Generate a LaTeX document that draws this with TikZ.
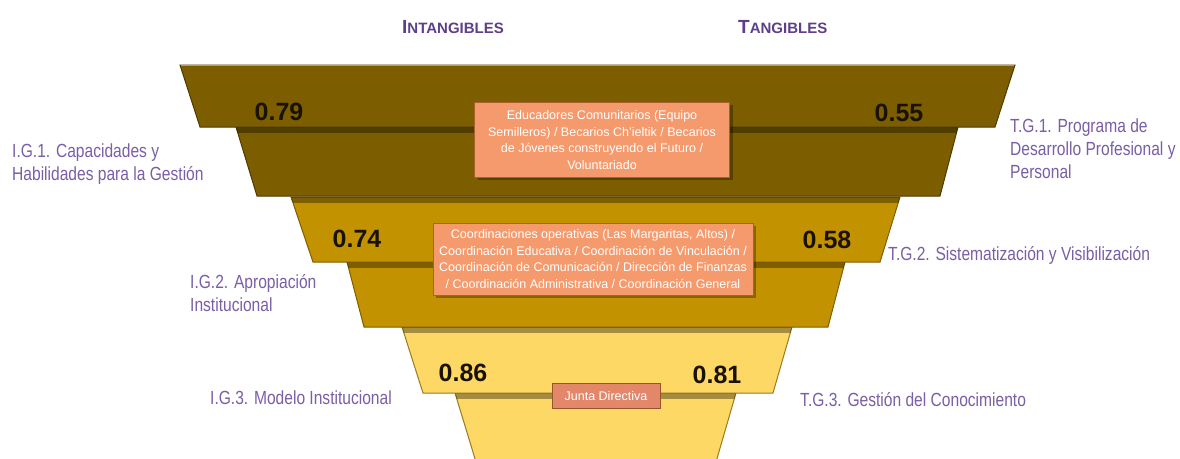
\documentclass[tikz,border=0pt]{standalone}
\usepackage{fontspec}
\setmainfont{Liberation Sans}
\newfontfamily\narrowfont[FakeStretch=0.82]{Liberation Sans}
\definecolor{tierA}{HTML}{7C5E00}
\definecolor{tierAedge}{HTML}{4E3A00}
\definecolor{tierB}{HTML}{C39200}
\definecolor{tierBedge}{HTML}{7E5E00}
\definecolor{tierC}{HTML}{FDD865}
\definecolor{tierCedge}{HTML}{9C7A20}
\definecolor{salmon}{HTML}{F59A6C}
\definecolor{salmonedge}{HTML}{A8602F}
\definecolor{salmondark}{HTML}{E3876A}
\definecolor{labelpurple}{HTML}{7A5EA6}
\definecolor{headpurple}{HTML}{5E3F88}
\definecolor{scoreink}{HTML}{1A1200}
\begin{document}
\begin{tikzpicture}[x=1pt,y=-1pt,
  slabshadow/.style={fill=black,opacity=0.35},
  slabA/.style={fill=tierA,draw=tierAedge,line width=1pt},
  slabB/.style={fill=tierB,draw=tierBedge,line width=1pt},
  slabC/.style={fill=tierC,draw=tierCedge,line width=1pt},
  score/.style={font=\bfseries\fontsize{25}{25}\selectfont,text=scoreink,inner sep=0pt,anchor=base},
  sidelabel/.style={font=\narrowfont\fontsize{19}{23}\selectfont,text=labelpurple,inner sep=0pt,align=left,anchor=base west},
  header/.style={font=\bfseries,text=headpurple,inner sep=0pt,anchor=base west},
  rolebox/.style={fill=salmon,draw=salmonedge,line width=0.8pt,text=white,align=center,
    font=\fontsize{12.5}{16.5}\selectfont,inner sep=2pt},
]
\useasboundingbox (0,0) rectangle (1180,458);
\fill[white] (0,0) rectangle (1180,458);

% funnel slabs, drawn bottom-up; each upper slab shades the top of the one below
\path[slabC] (455,393) -- (736,393) -- (716,462) -- (476,462) -- cycle;
\begin{scope}
  \clip (455,393) -- (736,393) -- (716,462) -- (476,462) -- cycle;
  \fill[slabshadow] (400,393) rectangle (800,399);
\end{scope}
\path[slabC] (402,327) -- (792,327) -- (773,393) -- (423,393) -- cycle;
\begin{scope}
  \clip (402,327) -- (792,327) -- (773,393) -- (423,393) -- cycle;
  \fill[slabshadow] (340,327) rectangle (850,333);
\end{scope}

\path[slabB] (347,262) -- (845,262) -- (828,327) -- (364,327) -- cycle;
\begin{scope}
  \clip (347,262) -- (845,262) -- (828,327) -- (364,327) -- cycle;
  \fill[slabshadow] (290,262) rectangle (900,268);
\end{scope}
\path[slabB] (291,197) -- (900,197) -- (880,262) -- (313,262) -- cycle;
\begin{scope}
  \clip (291,197) -- (900,197) -- (880,262) -- (313,262) -- cycle;
  \fill[slabshadow] (230,197) rectangle (960,203);
\end{scope}

\path[slabA] (236,127) -- (958,127) -- (940,196) -- (257,196) -- cycle;
\begin{scope}
  \clip (236,127) -- (958,127) -- (940,196) -- (257,196) -- cycle;
  \fill[slabshadow] (180,127) rectangle (1015,133);
\end{scope}
\path[slabA] (180,65) -- (1015,65) -- (995,127) -- (200,127) -- cycle;
\draw[tierA!60!white,line width=0.8pt] (181,65.8) -- (1014,65.8);

% column headers
\node[header] (hint) at (402,33) {{\fontsize{19}{19}\selectfont I}{\fontsize{15}{15}\selectfont NTANGIBLES}};
\node[header] (htan) at (738,33) {{\fontsize{19}{19}\selectfont T}{\fontsize{15}{15}\selectfont ANGIBLES}};

% scores
\node[score] (s79) at (279,120) {0.79};
\node[score] (s55) at (899,121) {0.55};
\node[score] (s74) at (357,247) {0.74};
\node[score] (s58) at (827,248) {0.58};
\node[score] (s86) at (463,381) {0.86};
\node[score] (s81) at (717,383) {0.81};

% groups within each tier
\fill[black,opacity=0.3] (478,105) rectangle (733,180);
\node[rolebox,minimum width=255pt,minimum height=75pt] (r1) at (602,140)
  {Educadores Comunitarios (Equipo\\Semilleros) / Becarios Ch'ieltik / Becarios\\de Jóvenes construyendo el Futuro /\\Voluntariado};
\fill[black,opacity=0.3] (436,226) rectangle (756,298);
\node[rolebox,minimum width=320pt,minimum height=72pt] (r2) at (593,259)
  {Coordinaciones operativas (Las Margaritas, Altos) /\\Coordinación Educativa / Coordinación de Vinculación /\\Coordinación de Comunicación / Dirección de Finanzas\\/ Coordinación Administrativa / Coordinación General};
\node[rolebox,fill=salmondark,draw=salmonedge!90!black,minimum width=108pt,minimum height=25pt] (r3) at (606,396)
  {Junta Directiva};

% side labels (anchored at the baseline of their last line)
\node[sidelabel] (ig1) at (12,180) {I.G.1. Capacidades y\\Habilidades para la Gestión};
\node[sidelabel] (tg1) at (1010,178) {T.G.1. Programa de\\Desarrollo Profesional y\\Personal};
\node[sidelabel] (ig2) at (190,311) {I.G.2. Apropiación\\Institucional};
\node[sidelabel] (tg2) at (888,260) {T.G.2. Sistematización y Visibilización};
\node[sidelabel] (ig3) at (210,404) {I.G.3. Modelo Institucional};
\node[sidelabel] (tg3) at (800,406) {T.G.3. Gestión del Conocimiento};
\end{tikzpicture}
\end{document}
